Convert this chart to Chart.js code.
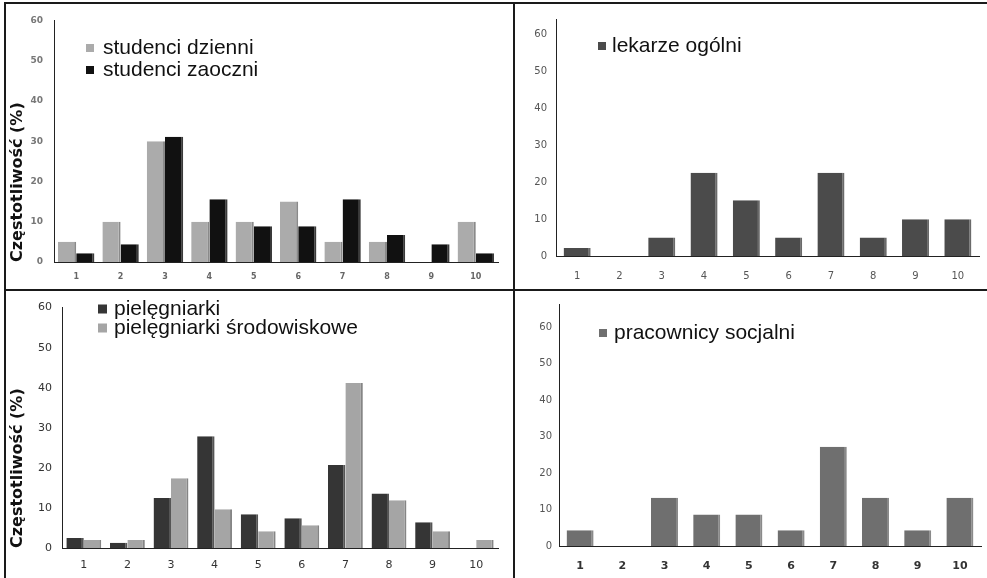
<!DOCTYPE html>
<html><head><meta charset="utf-8">
<script src="https://cdn.jsdelivr.net/npm/chart.js@4.4.1/dist/chart.umd.min.js"></script>
<style>
html,body{margin:0;padding:0;background:#fff;}
#wrap{position:relative;width:987px;height:578px;overflow:hidden;background:#fff;}
.cell{position:absolute;}
.cell canvas{display:block;}
.ln{position:absolute;background:#1a1a1a;}
</style></head><body>
<div id="wrap">
  <div class="cell" style="left:6px;top:4px;width:507px;height:285px"><canvas id="c1" width="507" height="285"></canvas></div>
  <div class="cell" style="left:515px;top:4px;width:472px;height:285px"><canvas id="c2" width="472" height="285"></canvas></div>
  <div class="cell" style="left:6px;top:291px;width:507px;height:287px"><canvas id="c3" width="507" height="287"></canvas></div>
  <div class="cell" style="left:515px;top:291px;width:472px;height:287px"><canvas id="c4" width="472" height="287"></canvas></div>
  <div class="ln" style="left:5px;top:2px;width:982px;height:2px"></div>
  <div class="ln" style="left:4px;top:2px;width:2px;height:576px"></div>
  <div class="ln" style="left:513px;top:2px;width:2px;height:576px"></div>
  <div class="ln" style="left:5px;top:289px;width:982px;height:2px"></div>
</div>
<script>
const categories = ['1','2','3','4','5','6','7','8','9','10'];
const studenciDzienni = [5, 10, 30, 10, 10, 15, 5, 5, 0, 10];
const studenciZaoczni = [2.2, 4.4, 31.1, 15.6, 8.9, 8.9, 15.6, 6.7, 4.4, 2.2];
const lekarzeOgolni = [2.2, 0, 5, 22.6, 15.1, 5, 22.6, 5, 10, 10];
const pielegniarki = [2.5, 1.3, 12.5, 27.9, 8.4, 7.4, 20.7, 13.6, 6.4, 0];
const pielegniarkiSrodowiskowe = [2.0, 2.0, 17.4, 9.7, 4.2, 5.7, 41.2, 11.9, 4.2, 2.0];
const pracownicySocjalni = [4.3, 0, 13.2, 8.6, 8.6, 4.3, 27.2, 13.2, 4.3, 13.2];
const yTickValues = [0, 10, 20, 30, 40, 50, 60];
const yTitle = 'Częstotliwość (%)';

const overlayLegend = {
  id: 'overlayLegend',
  afterDraw(chart, args, o) {
    if (!o || !o.show) return;
    const ctx = chart.ctx;
    ctx.save();
    ctx.font = o.font;
    ctx.textBaseline = 'middle';
    ctx.textAlign = 'left';
    chart.data.datasets.forEach((ds, i) => {
      const y = o.y + i * o.lineHeight;
      ctx.fillStyle = ds.backgroundColor;
      ctx.fillRect(o.x, y - o.box / 2, o.box, o.box);
      ctx.fillStyle = o.color;
      ctx.fillText(ds.label, o.textX, y);
    });
    ctx.restore();
  }
};

function barSet(label, data, color, edge) {
  return {
    label, data,
    backgroundColor: color,
    borderColor: edge,
    borderWidth: {top: 0, right: 2, bottom: 0, left: 0},
    borderSkipped: false,
    categoryPercentage: 1,
    barPercentage: 1
  };
}

function makeChart(id, datasets, cfg) {
  datasets.forEach(d => { d.categoryPercentage = cfg.cp; });
  return new Chart(document.getElementById(id), {
    type: 'bar',
    data: { labels: categories, datasets },
    options: {
      responsive: false,
      animation: false,
      events: [],
      layout: { padding: { left: 0, right: cfg.padR, top: cfg.padT, bottom: 0 } },
      plugins: {
        legend: { display: false },
        tooltip: { enabled: false },
        overlayLegend: Object.assign({ show: true }, cfg.legend)
      },
      scales: {
        x: {
          grid: { display: false, drawTicks: false },
          border: { display: true, color: cfg.axisColor, width: 1 },
          ticks: { color: cfg.xTickColor, font: cfg.xTickFont, padding: cfg.xPad, maxRotation: 0 },
          afterFit(s) { s.height = cfg.bottomH; }
        },
        y: {
          min: 0, max: cfg.max,
          grid: { display: false, drawTicks: false },
          border: { display: true, color: cfg.axisColor, width: 1 },
          ticks: { stepSize: 10, color: cfg.yTickColor, font: cfg.yTickFont, padding: cfg.yPad },
          afterBuildTicks(s) { s.ticks = yTickValues.map(v => ({ value: v })); },
          title: cfg.title ? {
            display: true, text: yTitle, align: 'start', color: '#111',
            font: { family: 'DejaVu Sans', size: 16, weight: 'bold' },
            padding: { top: 2, bottom: 0 }
          } : { display: false },
          afterFit(s) { s.width = cfg.leftW; }
        }
      }
    },
    plugins: [overlayLegend]
  });
}

makeChart('c1', [
  barSet('studenci dzienni', studenciDzienni, '#ababab', '#8a8a8a'),
  barSet('studenci zaoczni', studenciZaoczni, '#111111', '#3a3a3a')
], {
  cp: 0.82, max: 60, padR: 15, padT: 13, leftW: 48, bottomH: 27,
  axisColor: '#222', xTickColor: '#666', yTickColor: '#777',
  xTickFont: { family: 'DejaVu Sans', size: 8, weight: 'bold' },
  yTickFont: { family: 'DejaVu Sans', size: 9, weight: 'bold' },
  xPad: 10, yPad: 11, title: true,
  legend: { x: 80, textX: 97, y: 44, lineHeight: 22, box: 8, font: '21px "Liberation Sans"', color: '#111' }
});

makeChart('c2', [
  barSet('lekarze ogólni', lekarzeOgolni, '#4b4b4b', '#6a6a6a')
], {
  cp: 0.64, max: 64.3, padR: 8, padT: 14, leftW: 41, bottomH: 33,
  axisColor: '#222', xTickColor: '#555', yTickColor: '#555',
  xTickFont: { family: 'DejaVu Sans', size: 10 },
  yTickFont: { family: 'DejaVu Sans', size: 10 },
  xPad: 14, yPad: 9, title: false,
  legend: { x: 83, textX: 97, y: 42, lineHeight: 22, box: 8, font: '21px "Liberation Sans"', color: '#111' }
});

makeChart('c3', [
  barSet('pielęgniarki', pielegniarki, '#353535', '#555555'),
  barSet('pielęgniarki środowiskowe', pielegniarkiSrodowiskowe, '#a5a5a5', '#858585')
], {
  cp: 0.8, max: 60, padR: 15, padT: 12, leftW: 56, bottomH: 30,
  axisColor: '#222', xTickColor: '#333', yTickColor: '#333',
  xTickFont: { family: 'DejaVu Sans', size: 11 },
  yTickFont: { family: 'DejaVu Sans', size: 11 },
  xPad: 11, yPad: 10, title: true,
  legend: { x: 92, textX: 108, y: 18, lineHeight: 19, box: 9, font: '21px "Liberation Sans"', color: '#111' }
});

makeChart('c4', [
  barSet('pracownicy socjalni', pracownicySocjalni, '#6f6f6f', '#8a8a8a')
], {
  cp: 0.64, max: 66.3, padR: 6, padT: 12, leftW: 44, bottomH: 32,
  axisColor: '#222', xTickColor: '#333', yTickColor: '#555',
  xTickFont: { family: 'DejaVu Sans', size: 11, weight: 'bold' },
  yTickFont: { family: 'DejaVu Sans', size: 10 },
  xPad: 14, yPad: 7, title: false,
  legend: { x: 84, textX: 99, y: 42, lineHeight: 22, box: 8, font: '21px "Liberation Sans"', color: '#111' }
});
</script>
</body></html>
